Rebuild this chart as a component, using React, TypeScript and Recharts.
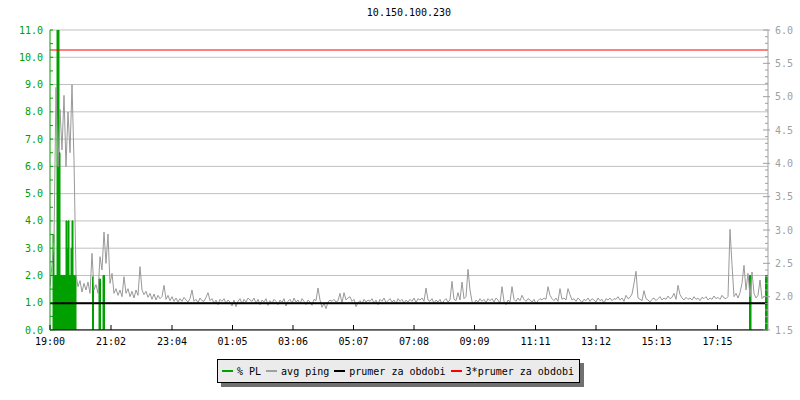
import React from 'react';
import { ComposedChart, Line, Area, XAxis, YAxis, CartesianGrid, ReferenceLine } from 'recharts';

// minutes after 19:00, one ping sample every 4 minutes
const SAMPLE_MIN = 4;

const timeTicks = [0, 122, 244, 365, 486, 607, 728, 849, 971, 1092, 1213, 1335];
const timeLabels = ['19:00', '21:02', '23:04', '01:05', '03:06', '05:07', '07:08', '09:09', '11:11', '13:12', '15:13', '17:15'];

const leftTicks = [0, 0.5, 1, 1.5, 2, 2.5, 3, 3.5, 4, 4.5, 5, 5.5, 6, 6.5, 7, 7.5, 8, 8.5, 9, 9.5, 10, 10.5, 11];
const gridValues = [1, 2, 3, 4, 5, 6, 7, 8, 9, 10, 11];
const rightTicks = [
  1.5, 1.6, 1.7, 1.8, 1.9, 2.0, 2.1, 2.2, 2.3, 2.4, 2.5, 2.6, 2.7, 2.8, 2.9, 3.0, 3.1, 3.2, 3.3, 3.4, 3.5, 3.6, 3.7,
  3.8, 3.9, 4.0, 4.1, 4.2, 4.3, 4.4, 4.5, 4.6, 4.7, 4.8, 4.9, 5.0, 5.1, 5.2, 5.3, 5.4, 5.5, 5.6, 5.7, 5.8, 5.9, 6.0,
];

// avg ping (ms, right axis)
const pingValues = [
  2.15, 2.48, 2.85, 5.14, 3.95, 4.81, 4.2, 5.02, 3.95, 4.77,
  4.16, 5.18, 4.04, 2.32, 2.15, 2.24, 2.07, 2.2, 2.1, 2.22,
  2.05, 2.65, 2.1, 2.18, 2.05, 2.6, 2.4, 2.97, 2.5, 2.94,
  2.2, 2.35, 2.05, 2.12, 2.02, 2.1, 2.0, 2.3, 2.05, 2.12,
  2.0, 2.08, 1.98, 2.1, 2.02, 2.45, 2.1, 2.03, 2.08, 1.99,
  2.05, 1.96, 2.04, 1.95, 2.02, 1.97, 2.0, 2.17, 1.96, 2.02,
  1.94, 2.0, 1.93, 1.98, 1.92, 1.97, 1.93, 1.99, 1.95, 1.92,
  1.97, 2.1, 1.93, 1.96, 1.91, 1.98, 1.94, 1.93, 1.99, 2.06,
  1.94, 1.97, 1.9, 1.95, 1.88, 1.96, 1.93, 1.97, 1.9, 1.95,
  1.92, 1.86, 1.95, 1.85, 1.93, 1.97, 1.89, 1.96, 1.92, 1.98,
  1.95, 1.93, 1.98, 1.9, 1.96, 1.88, 1.95, 1.92, 1.97, 1.87,
  1.94, 1.9, 1.96, 1.93, 1.88, 1.95, 1.91, 1.97, 1.86, 1.93,
  1.96, 1.9, 1.98, 1.92, 1.95, 1.89, 1.97, 1.93, 1.88, 1.95,
  1.92, 1.87, 1.96, 1.94, 2.13, 1.95, 1.84, 1.9, 1.82, 1.92,
  1.95, 1.93, 1.96, 1.92, 1.94, 2.05, 1.9, 2.06, 1.95, 1.98,
  2.0, 1.93, 1.96, 1.85, 1.91, 1.94, 1.89, 1.96, 1.92, 1.95,
  1.93, 1.97, 1.9, 1.95, 1.88, 1.96, 1.93, 1.98, 1.91, 1.94,
  1.97, 1.92, 1.95, 1.89, 1.97, 1.93, 1.96, 1.9, 1.95, 1.92,
  1.96, 1.93, 1.98, 1.91, 1.97, 1.95, 1.98, 1.93, 2.13, 1.95,
  1.93, 1.97, 1.9, 1.95, 1.92, 1.96, 1.89, 1.94, 1.97, 1.92,
  1.95, 2.23, 1.96, 1.94, 2.06, 1.95, 2.22, 1.97, 2.0, 2.41,
  2.1, 1.93, 1.89, 1.95, 1.92, 1.97, 1.93, 1.96, 1.91, 1.97,
  1.94, 1.97, 1.92, 1.98, 1.95, 1.9, 2.15, 1.93, 1.88, 1.95,
  1.92, 2.15, 1.96, 1.93, 1.98, 1.94, 2.02, 1.96, 1.93, 1.97,
  1.95, 1.92, 1.96, 1.89, 1.94, 1.97, 1.95, 1.98, 1.96, 2.15,
  2.02, 1.97, 1.94, 1.98, 1.93, 2.12, 1.96, 1.98, 1.95, 2.12,
  2.03, 1.95, 1.97, 1.93, 1.98, 1.95, 1.91, 1.96, 1.94, 1.98,
  1.93, 1.97, 1.95, 1.92, 1.98, 1.94, 1.96, 1.9, 1.97, 1.95,
  1.98, 1.94, 1.97, 1.96, 2.0, 1.95, 1.98, 1.93, 2.02, 1.97,
  1.99, 2.04, 2.2, 2.38, 1.98, 1.96, 1.94, 2.09, 1.97, 1.95,
  1.92, 1.96, 1.98, 1.94, 1.97, 2.0, 1.95, 1.98, 1.96, 2.01,
  1.97, 1.99, 2.05, 1.96, 2.17, 2.03, 1.98, 1.95, 1.99, 1.96,
  1.98, 1.95, 2.0, 1.96, 1.98, 1.94, 1.99, 1.97, 2.0, 1.95,
  1.98, 1.96, 2.01, 1.97, 1.99, 1.96, 2.02, 1.98, 1.97, 2.0,
  3.01, 2.48, 2.0, 2.05, 1.98, 2.06, 2.2, 2.47, 2.1, 2.35,
  2.0, 2.37, 2.05, 1.98, 2.02, 2.25, 1.97, 2.0, 2.02,
];

// packet loss (%, left axis), value holds until the next time
const plTimes = [0, 6, 8, 14, 18, 20, 32, 34, 36, 38, 42, 44, 46, 52, 85, 87, 98, 101, 106, 109, 1399, 1402, 1431, 1436];
const plValues = [0, 3.5, 2, 11, 6.5, 2, 4, 3, 4, 2, 3, 4, 2, 0, 1.95, 0, 1.87, 0, 2.0, 0, 2.0, 0, 2.0, 2.0];

const periodAvg = 1.9;
const periodAvg3 = 5.7;

const legendItems = [
  { name: '% PL', color: '#00a000' },
  { name: 'avg ping', color: '#a0a0a0' },
  { name: 'prumer za obdobi', color: '#000000' },
  { name: '3*prumer za obdobi', color: '#ff0000' },
];

const GREEN = '#00a000';
const GRAY = '#a0a0a0';
const FONT = '"DejaVu Sans Mono", monospace';
const LEFT = 50;
const RIGHT = 768;
const BOTTOM = 330;

const pingData = pingValues.map((v, i) => ({ t: i * SAMPLE_MIN, ping: v }));
const plData = plTimes.map((t, i) => ({ t, pl: plValues[i] }));

const isStep = (v: number, step: number) => Math.abs(v / step - Math.round(v / step)) < 1e-6;

const LeftTick = (props: any) => {
  const { y, payload } = props;
  const v = payload.value as number;
  return (
    <g>
      <line x1={LEFT} x2={LEFT + 3} y1={y} y2={y} stroke={GREEN} />
      {isStep(v, 1) && (
        <text x={LEFT - 7} y={y} dy="0.35em" textAnchor="end" fill={GREEN} fontSize={10} fontFamily={FONT}>
          {v.toFixed(1)}
        </text>
      )}
    </g>
  );
};

const RightTick = (props: any) => {
  const { y, payload } = props;
  const v = payload.value as number;
  const major = isStep(v, 0.5);
  return (
    <g>
      <line x1={major ? RIGHT - 5 : RIGHT - 3} x2={major ? RIGHT + 2 : RIGHT} y1={y} y2={y} stroke={GRAY} />
      {major && (
        <text x={RIGHT + 7} y={y} dy="0.35em" textAnchor="start" fill={GRAY} fontSize={10} fontFamily={FONT}>
          {v.toFixed(1)}
        </text>
      )}
    </g>
  );
};

const TimeTick = (props: any) => {
  const { x, payload } = props;
  const idx = timeTicks.indexOf(payload.value);
  return (
    <g>
      <line x1={x} x2={x} y1={BOTTOM} y2={BOTTOM - 5} stroke="#000" />
      <text x={x} y={BOTTOM + 15} textAnchor="middle" fill="#000" fontSize={10} fontFamily={FONT}>
        {timeLabels[idx]}
      </text>
    </g>
  );
};

const LegendBox = () => (
  <div
    style={{
      position: 'absolute',
      left: 217,
      top: 359,
      display: 'flex',
      alignItems: 'center',
      height: 24,
      boxSizing: 'border-box',
      padding: '0 0 0 4px',
      width: 363,
      background: '#ebebeb',
      border: '1px solid #000',
      boxShadow: '4px 4px 0 #707070',
      fontFamily: FONT,
      fontSize: 10,
      color: '#000',
      whiteSpace: 'pre',
    }}
  >
    {legendItems.map((it) => (
      <span key={it.name} style={{ display: 'flex', alignItems: 'center', marginRight: 5 }}>
        <span style={{ display: 'inline-block', width: 11, height: 2, background: it.color, marginRight: 4 }} />
        <span>{it.name}</span>
      </span>
    ))}
  </div>
);

export default function App() {
  return (
    <div style={{ position: 'absolute', left: 0, top: 0, width: 800, height: 400, background: '#fff' }}>
      <div
        style={{
          position: 'absolute',
          left: LEFT,
          width: RIGHT - LEFT,
          top: 7,
          textAlign: 'center',
          fontFamily: FONT,
          fontSize: 10,
          lineHeight: '12px',
          color: '#000',
        }}
      >
        10.150.100.230
      </div>
      <ComposedChart width={800} height={400} margin={{ top: 30, right: 0, bottom: 40, left: 0 }}>
        <CartesianGrid yAxisId="left" vertical={false} horizontalValues={gridValues} stroke="#c0c0c0" />
        <XAxis
          type="number"
          dataKey="t"
          domain={[0, 1436]}
          ticks={timeTicks}
          interval={0}
          height={30}
          tick={TimeTick}
          tickLine={false}
          axisLine={{ stroke: '#000' }}
          allowDataOverflow
        />
        <YAxis
          yAxisId="left"
          orientation="left"
          width={50}
          domain={[0, 11]}
          ticks={leftTicks}
          interval={0}
          tick={LeftTick}
          tickLine={false}
          axisLine={{ stroke: GREEN }}
          allowDataOverflow
        />
        <YAxis
          yAxisId="right"
          orientation="right"
          width={32}
          domain={[1.5, 6]}
          ticks={rightTicks}
          interval={0}
          tick={RightTick}
          tickLine={false}
          axisLine={{ stroke: GRAY }}
          allowDataOverflow
        />
        <Area
          yAxisId="left"
          data={plData}
          dataKey="pl"
          name="% PL"
          type="stepAfter"
          stroke={GREEN}
          strokeWidth={1}
          fill={GREEN}
          fillOpacity={1}
          isAnimationActive={false}
          dot={false}
          activeDot={false}
        />
        <Line
          yAxisId="right"
          data={pingData}
          dataKey="ping"
          name="avg ping"
          type="linear"
          stroke="#999999"
          strokeWidth={1}
          dot={false}
          activeDot={false}
          isAnimationActive={false}
        />
        <ReferenceLine yAxisId="right" y={periodAvg} stroke="#000" strokeWidth={2} />
        <ReferenceLine yAxisId="right" y={periodAvg3} stroke="#ff0000" strokeWidth={1} />
      </ComposedChart>
      <LegendBox />
    </div>
  );
}
